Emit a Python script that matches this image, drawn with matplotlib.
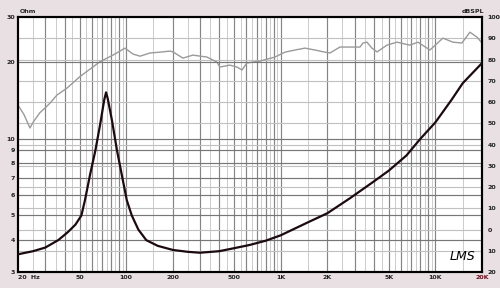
import numpy as np
import matplotlib
matplotlib.use('Agg')
import matplotlib.pyplot as plt

# Impedance curve (Ohm, left log axis)
imp_freq = [20, 25, 30, 36.4, 42, 47, 51.4, 54.2, 58.4, 63.3, 67.8, 72.2, 74.2,
            76, 81, 87.3, 94.7, 101, 108.8, 120, 135, 160, 201, 250, 300,
            400, 500, 630, 800, 1000, 1500, 2000, 2800, 4000, 5000, 6500,
            8000, 10000, 12700, 15000, 20000]
imp_ohm = [3.52, 3.62, 3.74, 4.0, 4.3, 4.6, 5.0, 5.74, 7.2, 9.0, 11.3, 14.2, 15.2,
           14.4, 11.8, 9.0, 7.0, 5.74, 5.0, 4.4, 4.0, 3.8, 3.66, 3.6, 3.57,
           3.62, 3.72, 3.83, 3.98, 4.18, 4.7, 5.1, 5.84, 6.8, 7.5, 8.6,
           10.0, 11.6, 14.2, 16.5, 19.8]

# SPL curve (dB, right axis)
spl_freq = [20, 21.9, 23.9, 25.1, 27.7, 29.9, 32.2, 35.7, 41.5, 50.3, 58.4, 67.8,
            82.2, 91.3, 98.3, 110.8, 123, 142.6, 165.6, 192, 201, 233, 270, 333,
            387, 404, 469, 520, 561, 604, 733, 815, 917, 1064, 1236, 1434, 1664,
            1931, 2080, 2411, 2800, 3250, 3400, 3610, 3885, 4190, 4855, 5635,
            6840, 7710, 9210, 11170, 12970, 14830, 16710, 18540, 20000]
spl_db = [58.6, 54.0, 47.8, 50.6, 55.0, 57.2, 59.5, 63.3, 66.6, 72.0, 75.5, 79.0,
          82.1, 84.0, 85.4, 82.6, 81.6, 83.1, 83.5, 84.0, 83.6, 80.7, 82.1, 81.2,
          78.8, 76.5, 77.4, 76.5, 75.1, 78.4, 79.3, 80.2, 81.2, 83.5, 84.5, 85.4,
          84.5, 83.5, 83.1, 85.9, 85.9, 85.9, 87.8, 88.2, 85.4, 83.6, 86.8, 88.2,
          86.8, 88.2, 84.5, 90.1, 88.2, 87.8, 92.9, 90.6, 87.8]

x_ticks = [20, 50, 100, 200, 500, 1000, 2000, 5000, 10000, 20000]
x_labels = ['20  Hz', '50', '100', '200', '500', '1K', '2K', '5K', '10K', '20K']
ohm_ticks = [3, 4, 5, 6, 7, 8, 9, 10, 20, 30]
db_ticks = [100, 90, 80, 70, 60, 50, 40, 30, 20, 10, 0, -10, -20]
db_labels = ['100', '90', '80', '70', '60', '50', '40', '30', '20', '10', '0', '10', '20']

bg = '#e8e0e2'
fig = plt.figure(figsize=(5, 2.88), dpi=100, facecolor=bg)
ax = fig.add_axes([0.036, 0.0556, 0.928, 0.885])
ax.set_xscale('log')
ax.set_yscale('log')
ax.set_xlim(20, 20000)
ax.set_ylim(3, 30)

ax2 = ax.twinx()
ax2.set_ylim(-20, 100)

# grid - vertical
for dec in [10, 100, 1000, 10000]:
    for m in range(1, 10):
        f = m * dec
        if 20 < f < 20000:
            ax2.axvline(f, color='#858585', lw=0.85, zorder=1)
        fh = (m + 0.5) * dec
        if 20 < fh < 20000:
            ax2.axvline(fh, color='#cccccc', lw=0.7, zorder=1)
# grid - horizontal
for v in db_ticks[1:-1]:
    ax2.axhline(v, color='#c0c0c0', lw=0.8, zorder=1)
for v in ohm_ticks[1:-1]:
    ax.axhline(v, color='#777777', lw=0.85, zorder=1)

ax2.plot(spl_freq, spl_db, color='#9a9a9a', lw=1.0, zorder=3)
ax.plot(imp_freq, imp_ohm, color='#1c0a12', lw=1.6, zorder=4)
ax.set_zorder(ax2.get_zorder() + 1)
ax.patch.set_visible(False)
ax2.patch.set_facecolor('white')
ax2.patch.set_visible(True)

lab = dict(fontsize=4.5, fontweight='bold', color='#222222')
ax.set_xticks(x_ticks)
ax.set_xticklabels(x_labels, **lab)
ax.xaxis.set_minor_locator(matplotlib.ticker.NullLocator())
ax.get_xticklabels()[0].set_horizontalalignment('left')
ax.get_xticklabels()[-1].set_color('#6a1020')
ax.set_yticks(ohm_ticks)
ax.set_yticklabels([str(t) for t in ohm_ticks], **lab)
ax.yaxis.set_minor_locator(matplotlib.ticker.NullLocator())
ax2.set_yticks(db_ticks)
ax2.set_yticklabels(db_labels, **lab)
ax.tick_params(length=0, pad=2)
ax2.tick_params(length=0, pad=4)

for a in (ax, ax2):
    for s in a.spines.values():
        s.set_linewidth(1.5)
        s.set_color('black')

fig.text(0.04, 0.952, 'Ohm', fontsize=4.5, fontweight='bold', color='#222222',
         ha='left', va='bottom')
fig.text(0.968, 0.952, 'dBSPL', fontsize=4.5, fontweight='bold', color='#222222',
         ha='right', va='bottom')
ax.text(0.985, 0.035, 'LMS', transform=ax.transAxes, fontsize=9, style='italic',
        color='black', ha='right', va='bottom', zorder=6)

fig.savefig('out.png', dpi=100, facecolor=bg)
